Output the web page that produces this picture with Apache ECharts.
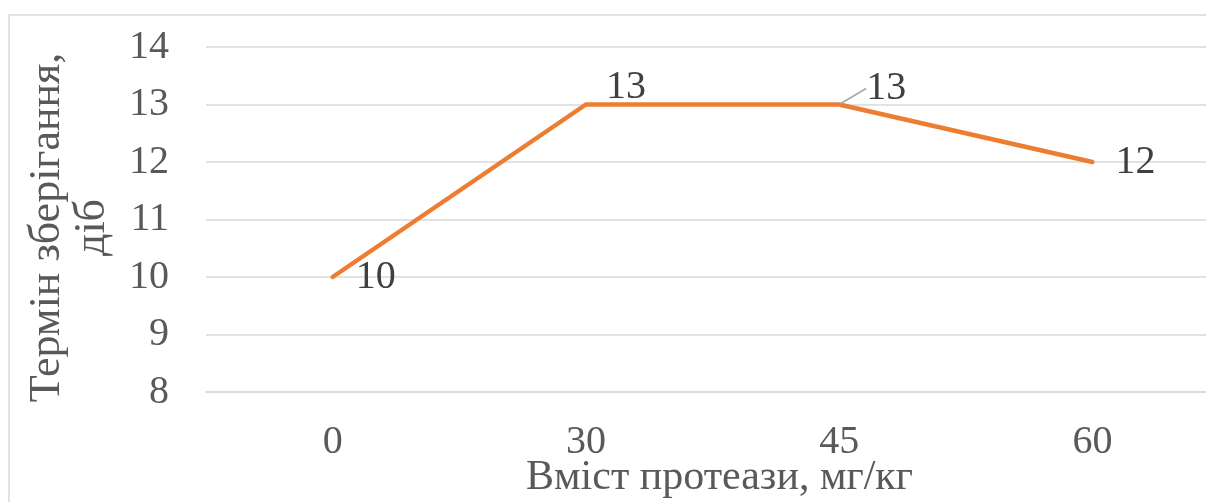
<!DOCTYPE html>
<html>
<head>
<meta charset="utf-8">
<script src="https://cdn.jsdelivr.net/npm/echarts@6/dist/echarts.min.js"></script>
<style>
  html, body { margin: 0; padding: 0; background: #fff; }
  #chart { width: 1206px; height: 502px; }
</style>
</head>
<body>
<div id="chart"></div>
<script>
// Protease content (mg/kg) vs. storage time (days)
const categories = ['0', '30', '45', '60'];
const storageDays = [10, 13, 13, 12];
const yTicks = { min: 8, max: 14, interval: 1 };

const FONT = '"Liberation Serif", "Times New Roman", serif';
const chart = echarts.init(document.getElementById('chart'), null, { renderer: 'canvas' });

const seriesData = storageDays.map((v, i) => {
  const item = { value: v };
  if (i === 2) item.labelLine = { show: true, lineStyle: { color: '#a6a6a6', width: 1.5 } };
  return item;
});

// nudges for the labels sitting on the flat 13-day segment
const labelShift = { 1: { dx: -3, dy: -17 }, 2: { dx: 4, dy: -16 } };

chart.setOption({
  backgroundColor: '#ffffff',
  animation: false,
  graphic: [{
    type: 'rect',
    shape: { x: 9, y: 15, width: 1400, height: 700 },
    style: { fill: 'none', stroke: '#d9d9d9', lineWidth: 1.5 },
    silent: true
  }],
  grid: { left: 206, top: 47, width: 1013, height: 345, outerBoundsMode: 'none', containLabel: false },
  xAxis: {
    type: 'category',
    data: categories,
    boundaryGap: true,
    axisLine: { show: true, lineStyle: { color: '#d9d9d9', width: 1.5 } },
    axisTick: { show: false },
    axisLabel: { color: '#595959', fontFamily: FONT, fontSize: 40, margin: 30 },
    name: 'Вміст протеази, мг/кг',
    nameLocation: 'middle',
    nameGap: 65,
    nameMoveOverlap: false,
    nameTextStyle: { color: '#595959', fontFamily: FONT, fontSize: 42, padding: [0, 0, 0, 14] }
  },
  yAxis: {
    type: 'value',
    min: yTicks.min,
    max: yTicks.max,
    interval: yTicks.interval,
    axisLine: { show: false },
    axisTick: { show: false },
    splitLine: { show: true, lineStyle: { color: '#d9d9d9', width: 1.5 } },
    axisLabel: { color: '#595959', fontFamily: FONT, fontSize: 40, margin: 37 },
    name: 'Термін зберігання,\nдіб',
    nameLocation: 'middle',
    nameGap: 91,
    nameMoveOverlap: false,
    nameRotate: 90,
    nameTextStyle: { color: '#595959', fontFamily: FONT, fontSize: 44, lineHeight: 45, align: 'center', padding: [0, 16, 0, 0] }
  },
  series: [{
    type: 'line',
    data: seriesData,
    symbol: 'circle',
    symbolSize: 2,
    showSymbol: true,
    itemStyle: { color: 'rgba(0,0,0,0)' },
    lineStyle: { color: '#ed7d31', width: 4.5, cap: 'round', join: 'round' },
    label: {
      show: true,
      position: 'right',
      distance: 22,
      color: '#404040',
      fontFamily: FONT,
      fontSize: 40
    },
    labelLayout: function (params) {
      return labelShift[params.dataIndex] || {};
    }
  }]
});
</script>
</body>
</html>
